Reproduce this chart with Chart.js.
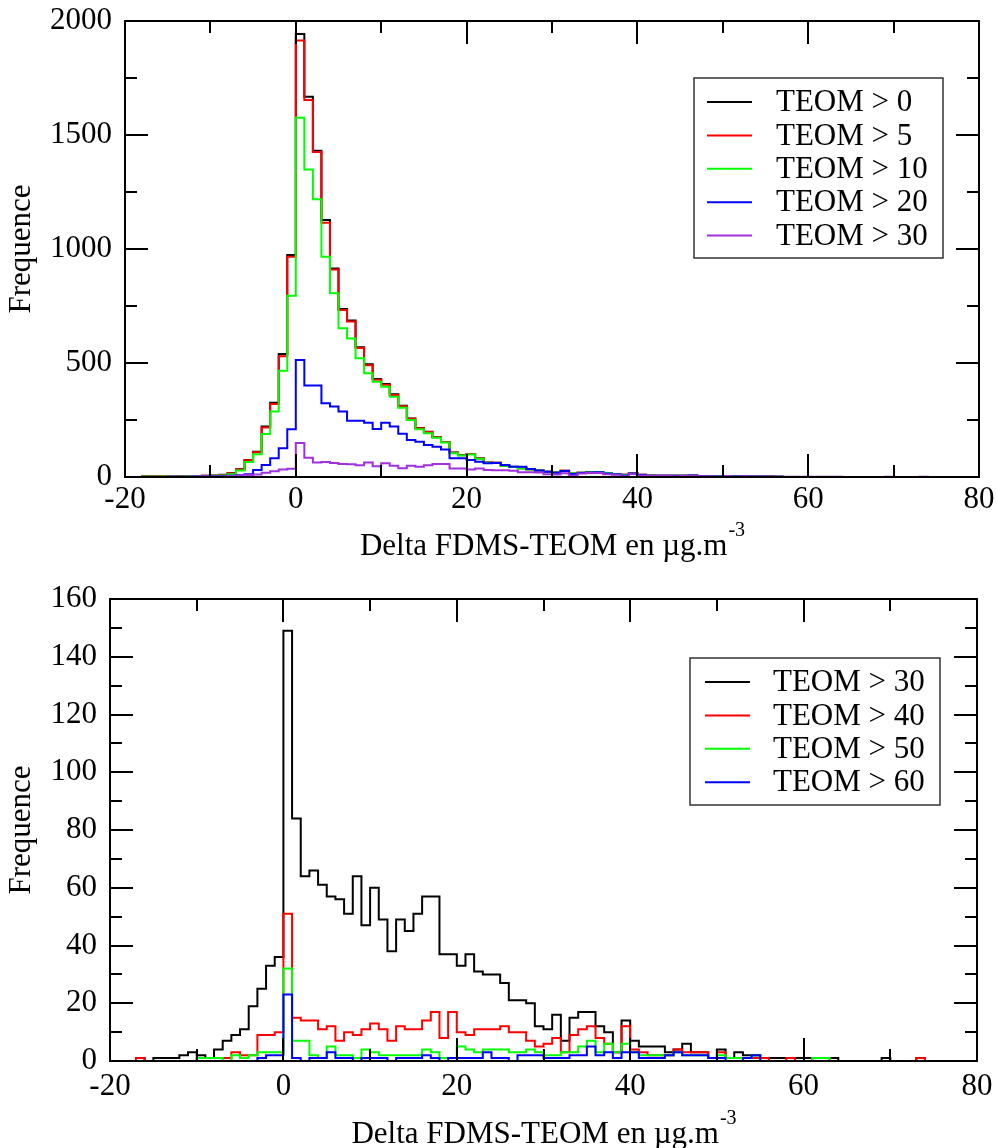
<!DOCTYPE html>
<html>
<head>
<meta charset="utf-8">
<title>Delta FDMS-TEOM</title>
<script src="https://cdn.jsdelivr.net/npm/chart.js@4.4.0/dist/chart.umd.min.js"></script>
<style>
  html, body { margin: 0; padding: 0; background: #fff; }
  #wrap { position: relative; width: 997px; height: 1148px; }
  #top-chart { position: absolute; left: 0; top: 0; }
  #bottom-chart { position: absolute; left: 0; top: 565px; }
</style>
</head>
<body>
<div id="wrap">
  <canvas id="top-chart" width="997" height="565"></canvas>
  <canvas id="bottom-chart" width="997" height="583"></canvas>
</div>
<script>
// Histogram bins are 1 µg.m-3 wide: value i covers [BIN_START + i, BIN_START + i + 1)
const BIN_START = -18;

// Counts per bin, all hours (TEOM > 0) and filtered by TEOM level
const teom0 = [
  4, 4, 3, 2, 3, 4, 4, 5, 7, 10, 16, 34, 75, 111, 221, 326, 539, 974,
  1943, 1668, 1431, 1127, 915, 737, 686, 569, 494, 430, 408, 363, 312, 257, 215, 198, 175, 154,
  107, 96, 101, 82, 64, 63, 50, 45, 38, 34, 29, 23, 20, 27, 16, 19, 22, 22,
  17, 13, 10, 16, 10, 7, 6, 5, 5, 6, 7, 4, 4, 3, 4, 3, 3, 2, 2, 2, 1
];
const teom5 = [
  3, 3, 3, 2, 3, 3, 4, 5, 6, 9, 15, 33, 73, 109, 217, 320, 530, 966,
  1914, 1654, 1425, 1115, 910, 732, 682, 566, 490, 427, 405, 360, 310, 255, 214, 197, 174, 153,
  106, 95, 101, 81, 64, 62, 50, 44, 38, 34, 28, 23, 20, 27, 16, 19, 22, 22,
  17, 13, 10, 16, 10, 7, 6, 5, 5, 6, 7, 4, 4, 3, 4, 3, 3, 2, 2, 2, 1
];
const teom10 = [
  2, 2, 2, 2, 2, 3, 3, 4, 5, 7, 12, 28, 66, 100, 189, 287, 466, 795,
  1576, 1349, 1218, 966, 806, 652, 608, 521, 455, 418, 396, 352, 304, 250, 209, 192, 172, 151,
  104, 94, 99, 80, 63, 61, 49, 44, 37, 33, 28, 23, 20, 26, 16, 19, 21, 22,
  17, 13, 9, 15, 9, 7, 6, 5, 5, 6, 7, 4, 4, 3, 4, 3, 3, 2, 2, 1, 1
];
const teom20 = [
  0, 0, 0, 1, 1, 1, 2, 3, 3, 3, 5, 8, 12, 31, 53, 82, 126, 209,
  513, 401, 401, 323, 309, 287, 247, 247, 238, 210, 238, 221, 190, 162, 155, 140, 133, 121,
  82, 82, 75, 67, 60, 61, 53, 45, 45, 35, 29, 23, 19, 26, 13, 18, 20, 21,
  15, 12, 7, 15, 9, 6, 6, 5, 5, 6, 7, 4, 3, 2, 4, 2, 3, 2, 2, 1, 1
];
const teom30 = [
  0, 1, 0, 1, 1, 1, 2, 3, 2, 1, 4, 7, 9, 11, 19, 25, 33, 36,
  149, 84, 64, 66, 61, 57, 56, 51, 64, 47, 60, 49, 38, 49, 45, 51, 57, 57,
  37, 37, 33, 37, 31, 30, 30, 27, 21, 21, 20, 12, 11, 16, 7, 15, 17, 17,
  12, 10, 3, 14, 7, 5, 5, 5, 3, 4, 6, 3, 3, 1, 4, 1, 3, 2, 2, 1,
  1, 1, 1, 1, 1, 1, 1, 1, 0, 0, 0, 0, 0, 1, 0, 0, 0, 1
];
const teom40 = [
  0, 1, 0, 0, 0, 0, 0, 0, 1, 1, 1, 1, 3, 2, 2, 9, 9, 10,
  51, 15, 14, 14, 11, 12, 7, 10, 9, 11, 13, 11, 7, 12, 11, 11, 14, 17,
  8, 17, 10, 9, 11, 11, 11, 12, 10, 10, 7, 5, 6, 8, 3, 9, 11, 12,
  8, 6, 3, 12, 4, 3, 2, 2, 2, 4, 3, 3, 3, 1, 3, 1, 1, 1, 1, 1,
  0, 0, 1, 0, 0, 1, 1, 0, 0, 0, 0, 0, 0, 0, 0, 0, 0, 1
];
const teom50 = [
  0, 0, 0, 0, 0, 0, 0, 0, 1, 1, 1, 0, 2, 1, 2, 3, 3, 3,
  32, 7, 7, 2, 1, 5, 2, 2, 1, 4, 3, 2, 2, 2, 2, 2, 4, 3,
  1, 1, 5, 4, 3, 4, 4, 4, 3, 3, 4, 3, 2, 2, 3, 3, 5, 7,
  3, 6, 3, 6, 3, 2, 2, 2, 2, 3, 2, 2, 2, 1, 2, 1, 1, 1, 2, 0,
  0, 0, 0, 0, 0, 1, 1, 0
];
const teom60 = [
  0, 0, 0, 0, 0, 0, 0, 0, 0, 0, 0, 0, 0, 0, 0, 1, 2, 2,
  23, 1, 0, 1, 1, 3, 1, 1, 0, 1, 1, 1, 0, 1, 1, 1, 2, 1,
  0, 1, 1, 1, 1, 3, 1, 1, 0, 2, 2, 2, 1, 1, 1, 2, 2, 5,
  2, 3, 1, 3, 3, 1, 1, 1, 2, 3, 2, 2, 2, 1, 1, 0, 0, 1, 2, 0
];

// Axis ranges and tick steps
const xRange = [-20, 80];
const topYRange = [0, 2000];
const bottomYRange = [0, 160];

const FAMILY = '"Liberation Serif", "Times New Roman", serif';
const FONT_SIZE = 31;

// Turn bin counts into points for a step-before line (closed down to 0 at both ends)
function histPoints(counts) {
  const pts = [{ x: BIN_START, y: 0 }];
  counts.forEach((c, i) => pts.push({ x: BIN_START + i, y: c }));
  pts.push({ x: BIN_START + counts.length, y: 0 });
  return pts;
}

function isMultiple(d, step) {
  const q = d / step;
  return Math.abs(q - Math.round(q)) < 1e-6;
}

// Frame around the plot with inward ticks on every side
const axisFrame = {
  id: 'axisFrame',
  afterDatasetsDraw(chart, args, opts) {
    const { ctx, chartArea: a, scales: { x, y } } = chart;
    ctx.save();
    ctx.strokeStyle = '#000';
    ctx.lineWidth = 2;
    ctx.beginPath();
    for (let v = x.min; v <= x.max + 1e-9; v += opts.xMinor) {
      const px = Math.round(x.getPixelForValue(v));
      const len = isMultiple(v - x.min, opts.xMajor) ? opts.major : opts.minor;
      ctx.moveTo(px, a.bottom);
      ctx.lineTo(px, a.bottom - len);
      ctx.moveTo(px, a.top);
      ctx.lineTo(px, a.top + len);
    }
    for (let v = y.min; v <= y.max + 1e-9; v += opts.yMinor) {
      const py = Math.round(y.getPixelForValue(v));
      const len = isMultiple(v - y.min, opts.yMajor) ? opts.major : opts.minor;
      ctx.moveTo(a.left, py);
      ctx.lineTo(a.left + len, py);
      ctx.moveTo(a.right, py);
      ctx.lineTo(a.right - len, py);
    }
    ctx.stroke();
    ctx.strokeRect(a.left, a.top, a.right - a.left, a.bottom - a.top);
    ctx.restore();
  }
};

// Boxed legend inside the plot
const boxLegend = {
  id: 'boxLegend',
  afterDraw(chart, args, opts) {
    const ctx = chart.ctx;
    ctx.save();
    ctx.fillStyle = '#fff';
    ctx.fillRect(opts.left, opts.top, opts.width, opts.height);
    ctx.strokeStyle = '#333';
    ctx.lineWidth = 1.5;
    ctx.strokeRect(opts.left, opts.top, opts.width, opts.height);
    ctx.font = FONT_SIZE + 'px ' + FAMILY;
    ctx.textBaseline = 'middle';
    ctx.textAlign = 'left';
    chart.data.datasets.forEach((ds, i) => {
      const cy = opts.firstRow + i * opts.rowGap;
      ctx.strokeStyle = ds.borderColor;
      ctx.lineWidth = 2;
      ctx.beginPath();
      ctx.moveTo(opts.lineFrom, cy);
      ctx.lineTo(opts.lineTo, cy);
      ctx.stroke();
      ctx.fillStyle = '#000';
      ctx.fillText(ds.label, opts.textX, cy + 1);
    });
    ctx.restore();
  }
};

// X axis title with the superscript unit exponent
const unitTitle = {
  id: 'unitTitle',
  afterDraw(chart, args, opts) {
    const { ctx, chartArea: a } = chart;
    ctx.save();
    ctx.fillStyle = '#000';
    ctx.textBaseline = 'alphabetic';
    ctx.textAlign = 'left';
    const mainFont = FONT_SIZE + 'px ' + FAMILY;
    const supFont = opts.supSize + 'px ' + FAMILY;
    ctx.font = mainFont;
    const w1 = ctx.measureText(opts.text).width;
    ctx.font = supFont;
    const w2 = ctx.measureText(opts.sup).width;
    const x0 = (a.left + a.right) / 2 - (w1 + w2) / 2;
    ctx.font = mainFont;
    ctx.fillText(opts.text, x0, opts.baseline);
    ctx.font = supFont;
    ctx.fillText(opts.sup, x0 + w1 + 1, opts.baseline - opts.raise);
    ctx.restore();
  }
};

function makeChart(canvasId, series, labels, colors, yRange, layout) {
  const n = series.length;
  const datasets = series.map((counts, i) => ({
    label: labels[i],
    data: histPoints(counts),
    borderColor: colors[i],
    borderWidth: 2,
    pointRadius: 0,
    fill: false,
    stepped: 'before',
    order: n - i
  }));

  const tickFont = { family: FAMILY, size: FONT_SIZE };

  return new Chart(document.getElementById(canvasId), {
    type: 'line',
    data: { datasets: datasets },
    options: {
      responsive: false,
      animation: false,
      devicePixelRatio: 1,
      layout: { padding: { top: layout.top, right: layout.right, left: 0, bottom: 0 } },
      plugins: {
        legend: { display: false },
        tooltip: { enabled: false },
        axisFrame: { xMajor: 20, xMinor: 10, yMajor: layout.yMajor, yMinor: layout.yMinor, major: 23, minor: 12 },
        boxLegend: layout.legend,
        unitTitle: {
          text: 'Delta FDMS-TEOM en µg.m',
          sup: '-3',
          supSize: 20,
          raise: 19,
          baseline: layout.titleBaseline
        }
      },
      scales: {
        x: {
          type: 'linear',
          min: xRange[0],
          max: xRange[1],
          grid: { display: false, drawTicks: false },
          border: { display: false },
          ticks: {
            stepSize: 20,
            autoSkip: false,
            maxRotation: 0,
            padding: layout.xTickPad,
            color: '#000',
            font: tickFont,
            callback: v => String(v)
          },
          afterFit: s => {
            s.height = layout.xAxisHeight;
            s.paddingLeft = 0;
            s.paddingRight = 0;
          }
        },
        y: {
          min: yRange[0],
          max: yRange[1],
          grid: { display: false, drawTicks: false },
          border: { display: false },
          ticks: {
            stepSize: layout.yMajor,
            padding: layout.yTickPad,
            color: '#000',
            font: tickFont,
            callback: v => String(v)
          },
          title: {
            display: true,
            text: 'Frequence',
            color: '#000',
            font: tickFont,
            padding: { top: 3, bottom: 0 }
          },
          afterFit: s => {
            s.width = layout.yAxisWidth;
            s.paddingTop = 0;
            s.paddingBottom = 0;
          }
        }
      }
    },
    plugins: [axisFrame, boxLegend, unitTitle]
  });
}

// Upper panel: all TEOM thresholds from 0 to 30
makeChart('top-chart',
  [teom0, teom5, teom10, teom20, teom30],
  ['TEOM > 0', 'TEOM > 5', 'TEOM > 10', 'TEOM > 20', 'TEOM > 30'],
  ['#000000', '#ff0000', '#00ff00', '#0000ff', '#a030e0'],
  topYRange,
  {
    top: 21, right: 18, yAxisWidth: 125, xAxisHeight: 88,
    yMajor: 500, yMinor: 250, xTickPad: 4, yTickPad: 13,
    titleBaseline: 555,
    legend: { left: 694, top: 78, width: 249, height: 180, firstRow: 102, rowGap: 33.4, lineFrom: 707, lineTo: 752, textX: 776 }
  });

// Lower panel: high concentration thresholds
makeChart('bottom-chart',
  [teom30, teom40, teom50, teom60],
  ['TEOM > 30', 'TEOM > 40', 'TEOM > 50', 'TEOM > 60'],
  ['#000000', '#ff0000', '#00ff00', '#0000ff'],
  bottomYRange,
  {
    top: 34, right: 20, yAxisWidth: 110, xAxisHeight: 87,
    yMajor: 20, yMinor: 10, xTickPad: 7, yTickPad: 13,
    titleBaseline: 578,
    legend: { left: 690, top: 93, width: 250, height: 147, firstRow: 117, rowGap: 33.4, lineFrom: 705, lineTo: 750, textX: 773 }
  });
</script>
</body>
</html>
